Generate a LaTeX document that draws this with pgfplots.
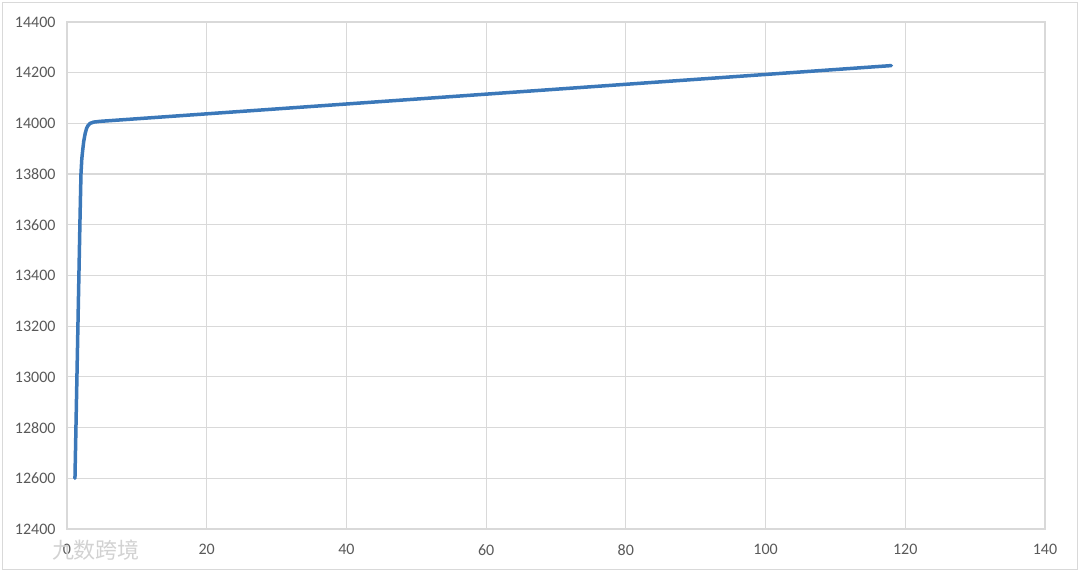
\documentclass[border=0pt]{standalone}
\usepackage{pgfplots}
\pgfplotsset{compat=1.18}
\usepackage{fontspec}
\setmainfont{Carlito}
\newfontfamily\cjk{Noto Sans CJK SC}
\definecolor{gridc}{HTML}{D9D9D9}
\definecolor{linec}{HTML}{3B78B9}
\definecolor{labc}{HTML}{595959}
\begin{document}
\begin{tikzpicture}[x=1pt,y=1pt]
\useasboundingbox (-67,-43) rectangle (1013,529);
\draw[gridc, line width=1pt] (-64.5,-40.5) rectangle (1010.5,526.5);
\begin{axis}[at={(0,0)}, anchor=south west, scale only axis,
  width=978pt, height=507pt,
  xmin=0, xmax=140, ymin=12400, ymax=14400,
  xtick={0,20,...,140}, ytick={12400,12600,...,14400},
  scaled ticks=false,
  grid=major, major grid style={gridc, line width=1.2pt},
  axis line style={gridc, line width=1.2pt},
  tick style={draw=none},
  ticklabel style={font=\fontsize{16}{19}\selectfont, text=labc},
  /pgf/number format/assume math mode=true,
  /pgf/number format/1000 sep={},
  /pgf/number format/fixed,
  yticklabel style={xshift=-8pt},
  xticklabel style={yshift=-12pt},
  clip=false]
\addplot[linec, line width=3.5pt, line join=round, line cap=round] coordinates {
(1.14,12600) (1.5,13110) (1.86,13620) (2.0,13800) (2.12,13860) (2.25,13895)
(2.4,13930) (2.6,13960) (2.8,13980) (3.0,13991) (3.3,14000) (3.8,14005)
(4.7,14008) (118,14228)};
\end{axis}
\node[text=gray!35, font=\cjk\fontsize{22}{24}\selectfont] at (29,-21) {九数跨境};
\end{tikzpicture}
\end{document}
